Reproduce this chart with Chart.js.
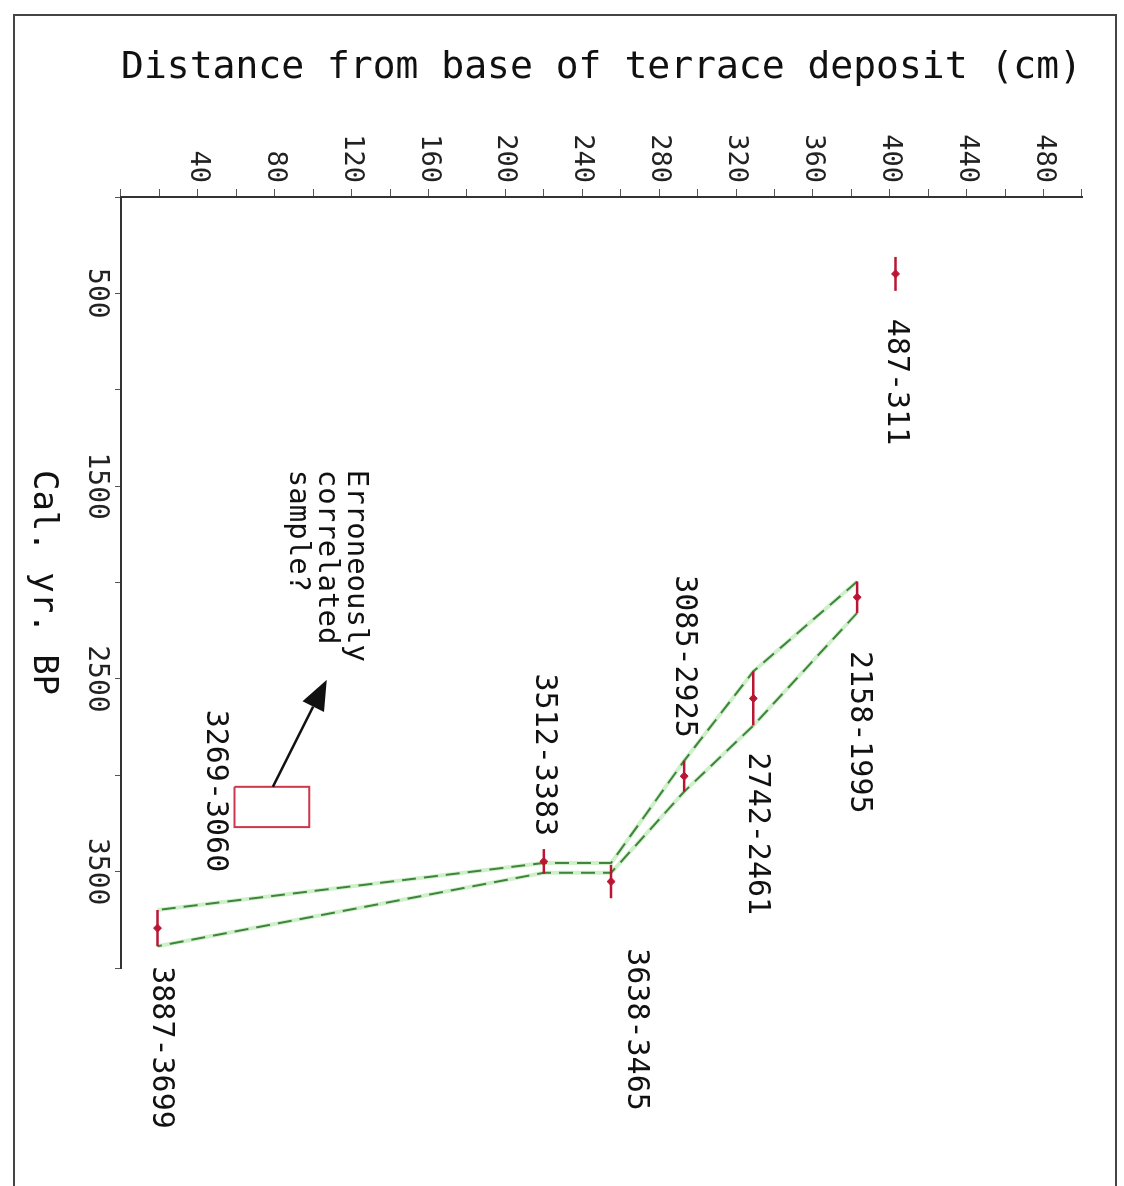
<!DOCTYPE html>
<html>
<head>
<meta charset="utf-8">
<script src="https://cdn.jsdelivr.net/npm/chart.js"></script>
<style>
  html, body { margin: 0; padding: 0; background: #fff; overflow: hidden; }
  #frame { position: absolute; left: 13px; top: 14px; width: 1100px; height: 1300px; border: 2px solid #444; }
  /* chart is drawn upright, then turned a quarter clockwise like the original figure */
  #wrap { position: absolute; left: 0; top: 0; width: 1186px; height: 1124px;
          transform-origin: 0 0; transform: translateX(1124px) rotate(90deg); }
</style>
</head>
<body>
<div id="frame"></div>
<div id="wrap"><canvas id="myChart" width="1186" height="1124"></canvas></div>
<script>
// dated samples: depth above base (cm) and calibrated age range (yr BP)
const sampleDist = [403, 383, 329, 293, 220, 255, 19];
const sampleMinYr = [311, 1995, 2461, 2925, 3383, 3465, 3699];
const sampleMaxYr = [487, 2158, 2742, 3085, 3512, 3638, 3887];

// green envelope through the correlated samples
const envDist = [383, 329, 293, 255, 220, 19];
const envYoungYr = [1995, 2461, 2925, 3455, 3455, 3699];
const envOldYr = [2158, 2742, 3085, 3506, 3506, 3887];

// outlier box and arrow to the note
const outlierDist = [59, 98];
const outlierYr = [3060, 3269];
const arrowDist = [79, 107];
const arrowYr = [3060, 2505];
const noteLines = ['Erroneously', 'correlated', 'sample?'];

const monoFont = "'DejaVu Sans Mono', 'Liberation Mono', monospace";

// label placement: side of the bar, gap in px, shift across in px
const labelPlace = [
    { side: 'after', gap: 28, dv: 0 },
    { side: 'after', gap: 38, dv: -2 },
    { side: 'after', gap: 27, dv: -3 },
    { side: 'before', gap: 23, dv: 0 },
    { side: 'before', gap: 13, dv: 0 },
    { side: 'after', gap: 50, dv: -25 },
    { side: 'after', gap: 20, dv: -3 },
];

function envPoints(yrs) {
    return envDist.map((d, i) => ({ x: yrs[i], y: d }));
}

const datasets = [];
[envYoungYr, envOldYr].forEach((yrs) => {
    datasets.push({
        data: envPoints(yrs),
        borderColor: 'rgba(170, 228, 160, 0.55)',
        borderWidth: 4,
        pointRadius: 0,
        order: 5
    });
    datasets.push({
        data: envPoints(yrs),
        borderColor: 'rgb(62, 132, 58)',
        borderWidth: 2,
        borderDash: [14, 8],
        pointRadius: 0,
        order: 4
    });
});
sampleDist.forEach((d, i) => {
    datasets.push({
        data: [{ x: sampleMinYr[i], y: d }, { x: sampleMaxYr[i], y: d }],
        borderColor: 'rgb(186, 22, 52)',
        borderWidth: 2.5,
        pointRadius: 0,
        order: 3
    });
});
datasets.push({
    data: sampleDist.map((d, i) => ({ x: (sampleMinYr[i] + sampleMaxYr[i]) / 2, y: d })),
    showLine: false,
    pointStyle: 'rectRot',
    pointRadius: 4,
    backgroundColor: 'rgb(186, 22, 52)',
    borderColor: 'rgb(186, 22, 52)',
    order: 1
});
datasets.push({
    data: [
        { x: outlierYr[0], y: outlierDist[0] },
        { x: outlierYr[1], y: outlierDist[0] },
        { x: outlierYr[1], y: outlierDist[1] },
        { x: outlierYr[0], y: outlierDist[1] },
        { x: outlierYr[0], y: outlierDist[0] }
    ],
    borderColor: 'rgb(205, 55, 75)',
    borderWidth: 2,
    pointRadius: 0,
    order: 2
});

const annotations = {
    id: 'annotations',
    afterDatasetsDraw(chart) {
        const { ctx, scales: { x, y } } = chart;
        ctx.save();
        ctx.fillStyle = '#111';
        ctx.font = '30px ' + monoFont;
        ctx.textBaseline = 'middle';
        sampleDist.forEach((d, i) => {
            const p = labelPlace[i];
            const text = sampleMaxYr[i] + '-' + sampleMinYr[i];
            const v = y.getPixelForValue(d) + p.dv;
            if (p.side === 'after') {
                ctx.textAlign = 'left';
                ctx.fillText(text, x.getPixelForValue(sampleMaxYr[i]) + p.gap, v);
            } else {
                ctx.textAlign = 'right';
                ctx.fillText(text, x.getPixelForValue(sampleMinYr[i]) - p.gap, v);
            }
        });
        // outlier label
        ctx.textAlign = 'center';
        ctx.fillText(outlierYr[1] + '-' + outlierYr[0],
            x.getPixelForValue((outlierYr[0] + outlierYr[1]) / 2) - 16,
            y.getPixelForValue(outlierDist[0]) + 20);

        // arrow
        const x0 = x.getPixelForValue(arrowYr[0]), y0 = y.getPixelForValue(arrowDist[0]);
        const x1 = x.getPixelForValue(arrowYr[1]), y1 = y.getPixelForValue(arrowDist[1]);
        const ang = Math.atan2(y1 - y0, x1 - x0);
        const hl = 30, hw = 12;
        ctx.strokeStyle = '#111';
        ctx.lineWidth = 2.5;
        ctx.beginPath();
        ctx.moveTo(x0, y0);
        ctx.lineTo(x1 - hl * Math.cos(ang), y1 - hl * Math.sin(ang));
        ctx.stroke();
        ctx.beginPath();
        ctx.moveTo(x1, y1);
        ctx.lineTo(x1 - hl * Math.cos(ang) - hw * Math.sin(ang), y1 - hl * Math.sin(ang) + hw * Math.cos(ang));
        ctx.lineTo(x1 - hl * Math.cos(ang) + hw * Math.sin(ang), y1 - hl * Math.sin(ang) - hw * Math.cos(ang));
        ctx.closePath();
        ctx.fill();

        // note text
        ctx.font = '29px ' + monoFont;
        ctx.textAlign = 'left';
        noteLines.forEach((line, i) => {
            ctx.fillText(line, x1 - 210, y1 + (i - 1) * 29);
        });
        ctx.restore();
    }
};

const config = {
    type: 'line',
    data: { datasets: datasets },
    options: {
        responsive: false,
        animation: false,
        layout: { padding: { top: 42, right: 218, left: 0, bottom: 0 } },
        plugins: { legend: { display: false }, tooltip: { enabled: false } },
        scales: {
            x: {
                type: 'linear',
                min: 0,
                max: 4000,
                afterFit: (scale) => { scale.height = 121; },
                grid: { drawOnChartArea: false, tickLength: 6, color: '#555' },
                border: { color: '#333', width: 2 },
                ticks: {
                    stepSize: 500,
                    autoSkip: false,
                    maxRotation: 0,
                    padding: 2,
                    color: '#222',
                    font: { family: monoFont, size: 28 },
                    callback: (v) => (v % 1000 === 500 ? v : '')
                },
                title: {
                    display: true,
                    text: 'Cal. yr. BP',
                    color: '#111',
                    font: { family: monoFont, size: 34 },
                    padding: { top: 0, bottom: 22 }
                }
            },
            y: {
                type: 'linear',
                min: 0,
                max: 500,
                afterFit: (scale) => { scale.width = 197; },
                grid: { drawOnChartArea: false, tickLength: 8, color: '#555' },
                border: { color: '#333', width: 2 },
                ticks: {
                    stepSize: 20,
                    autoSkip: false,
                    padding: 6,
                    color: '#222',
                    font: { family: monoFont, size: 27 },
                    callback: (v) => (v > 0 && v % 40 === 0 ? v : '')
                },
                title: {
                    display: true,
                    text: 'Distance from base of terrace deposit (cm)',
                    color: '#111',
                    font: { family: monoFont, size: 38 },
                    padding: { top: 45, bottom: 0 }
                }
            }
        }
    },
    plugins: [annotations]
};

const myChart = new Chart(
    document.getElementById('myChart'),
    config
);
</script>
</body>
</html>
